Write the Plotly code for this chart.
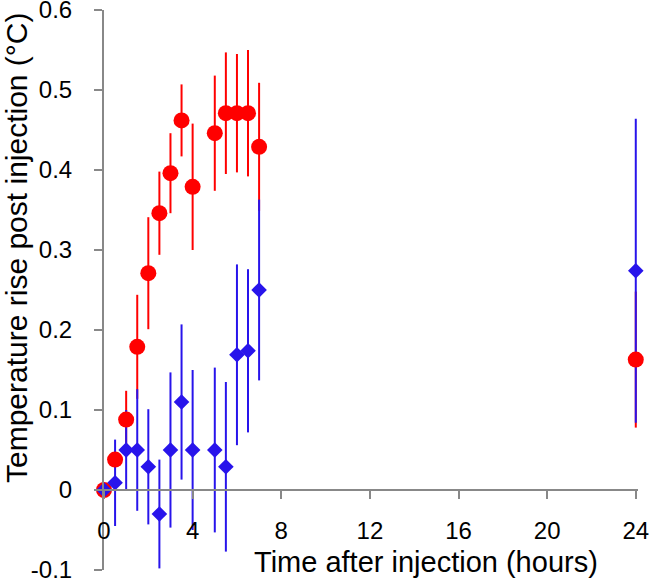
import plotly.graph_objects as go

hours = [0, 0.5, 1, 1.5, 2, 2.5, 3, 3.5, 4, 5, 5.5, 6, 6.5, 7, 24]
red_mean = [0, 0.038, 0.088, 0.179, 0.271, 0.346, 0.396, 0.462, 0.379, 0.446, 0.471, 0.471, 0.471, 0.429, 0.163]
red_err = [0, 0.01, 0.036, 0.065, 0.07, 0.052, 0.05, 0.045, 0.079, 0.072, 0.076, 0.074, 0.079, 0.08, 0.085]
blue_mean = [0, 0.009, 0.05, 0.05, 0.029, -0.03, 0.05, 0.11, 0.05, 0.05, 0.029, 0.169, 0.174, 0.25, 0.274]
blue_err = [0, 0.054, 0.05, 0.076, 0.072, 0.068, 0.097, 0.097, 0.1, 0.103, 0.106, 0.113, 0.102, 0.113, 0.19]
x_ticks = [0, 4, 8, 12, 16, 20, 24]
y_ticks = [-0.1, 0, 0.1, 0.2, 0.3, 0.4, 0.5, 0.6]
y_labels = ["-0.1", "0", "0.1", "0.2", "0.3", "0.4", "0.5", "0.6"]

RED = "#FF0000"
BLUE = "rgb(40,20,235)"
TICK_FONT = "Liberation Sans"
TITLE_FONT = "Liberation Sans"

fig = go.Figure()
# error bars first (red under blue), then markers
for mean, err, col in [(red_mean, red_err, RED), (blue_mean, blue_err, BLUE)]:
    fig.add_trace(go.Scatter(
        x=hours, y=mean, mode="markers",
        marker=dict(size=1, color="rgba(0,0,0,0)"),
        error_y=dict(type="data", array=err, visible=True, color=col, thickness=2, width=0),
        cliponaxis=False, showlegend=False, hoverinfo="skip"))
fig.add_trace(go.Scatter(
    x=hours, y=red_mean, mode="markers",
    marker=dict(symbol="circle", size=16, color=RED, line=dict(width=0)),
    cliponaxis=False, showlegend=False))
fig.add_trace(go.Scatter(
    x=hours, y=blue_mean, mode="markers",
    marker=dict(symbol="diamond", size=12, color=BLUE, line=dict(width=0)),
    cliponaxis=False, showlegend=False))

axis_col = "#888888"
L, R, T, B = 104, 12, 10, 11
W = 650 - L - R
H = 581 - T - B
fig.update_layout(
    width=650, height=581,
    margin=dict(l=L, r=R, t=T, b=B),
    paper_bgcolor="white", plot_bgcolor="white",
    font=dict(family=TICK_FONT, size=24, color="black"),
    xaxis=dict(range=[0, 24.1], tickvals=x_ticks, ticks="outside", ticklen=8, tickwidth=2,
               tickcolor=axis_col, showline=True, linecolor=axis_col, linewidth=2,
               showgrid=False, zeroline=False, anchor="free", position=1/7,
               ticklabelstandoff=11, automargin=False, ticklabeloverflow="allow",
               tickfont=dict(family=TICK_FONT, size=24, color="black")),
    yaxis=dict(range=[-0.1, 0.6], tickvals=y_ticks, ticktext=y_labels, ticks="outside",
               ticklen=8, tickwidth=2, tickcolor=axis_col, showline=True, linecolor=axis_col,
               linewidth=2, showgrid=False, zeroline=False, automargin=False,
               ticklabelstandoff=17, ticklabeloverflow="allow",
               tickfont=dict(family=TICK_FONT, size=24, color="black")),
    annotations=[
        dict(text="Temperature rise post injection (°C)", xref="paper", yref="paper",
             x=(16 - L) / W, y=(581 - B - 248) / H, xanchor="center", yanchor="middle",
             textangle=-90, showarrow=False,
             font=dict(family=TITLE_FONT, size=30, color="black")),
        dict(text="Time after injection (hours)", xref="paper", yref="paper",
             x=(426 - L) / W, y=(581 - B - 562) / H, xanchor="center", yanchor="middle",
             showarrow=False, font=dict(family=TITLE_FONT, size=29, color="black")),
    ],
)
fig.write_html("out.html", config={"displayModeBar": False},
               post_script="document.body.style.margin='0';")
